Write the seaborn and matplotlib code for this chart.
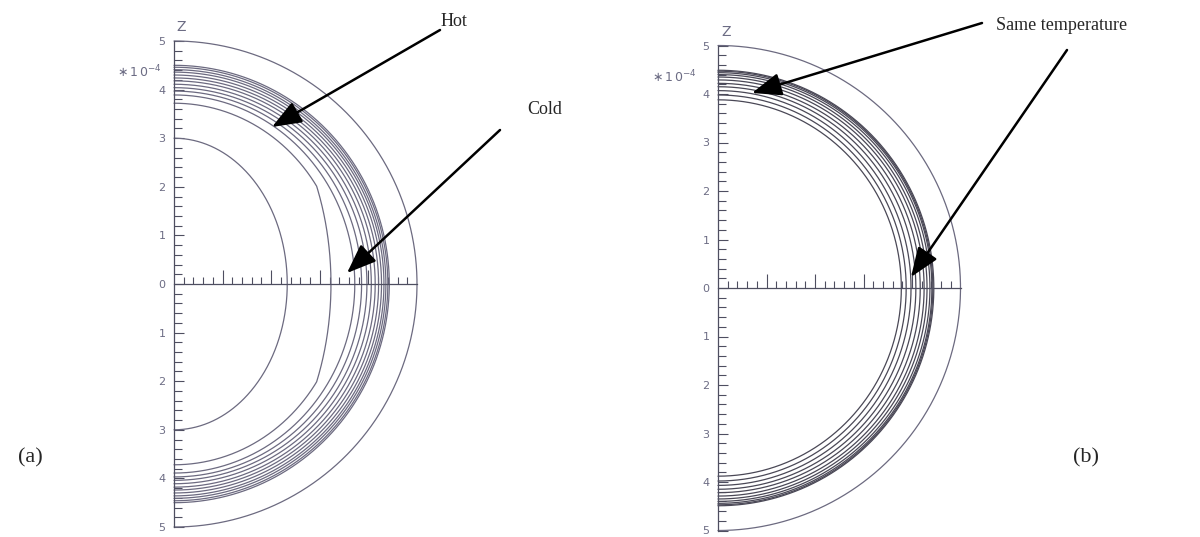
import numpy as np
import pandas as pd
import matplotlib
matplotlib.use("Agg")
import matplotlib.pyplot as plt
import seaborn as sns
from matplotlib.ticker import FuncFormatter

sns.set_style("white")
plt.rcParams["mathtext.fontset"] = "dejavusans"

# Isotherm radii (units of 1e-4): pole (z-axis) and equator (x-axis)
outer_radius = 5.0

# (a) non-uniform heating
core_a_equator, core_a_pole = 2.33, 3.0
hot_equator_a, hot_pole_a = 3.49, 3.72       # upper cap of the hot isotherm
hot_side_equator, hot_side_pole = 3.23, 4.82  # flattened flank of the hot isotherm
bundle_a_pole = [4.50, 4.46, 4.41, 4.36, 4.30, 4.24, 4.18, 4.11, 4.04, 3.97, 3.89]
bundle_a_equator = [4.43, 4.40, 4.36, 4.32, 4.27, 4.21, 4.14, 4.06, 3.97, 3.86, 3.72]

# (b) uniform temperature
bundle_b_pole = [4.49, 4.47, 4.44, 4.40, 4.35, 4.29, 4.22, 4.15, 4.07, 3.98, 3.88]
bundle_b_equator = [4.45, 4.43, 4.41, 4.37, 4.31, 4.25, 4.17, 4.08, 3.98, 3.88, 3.78]

tick_labels = ["5", "4", "3", "2", "1", "0", "1", "2", "3", "4", "5"]

W, H = 1200, 537
fig = plt.figure(figsize=(W / 100, H / 100), dpi=100)

theta = np.linspace(-np.pi / 2, np.pi / 2, 721)


def half_ellipse(a, b):
    return a * np.cos(theta), b * np.sin(theta)


def contour_frame(pairs):
    rows = []
    for k, (x, z) in enumerate(pairs):
        rows.append(pd.DataFrame({"x": x, "z": z, "contour": k}))
    return pd.concat(rows, ignore_index=True)


def setup_axes(ax, origin_px, unit_px):
    ox, oy = origin_px
    ax.set_xlim((ax_px[0] - ox) / unit_px, (ax_px[1] - ox) / unit_px)
    ax.set_ylim(-(H - oy) / unit_px, oy / unit_px)
    ax.patch.set_alpha(0)
    for s in ("top", "right"):
        ax.spines[s].set_visible(False)
    axis_col = "#4e4e60"
    ax.spines["left"].set_position(("data", 0))
    ax.spines["bottom"].set_position(("data", 0))
    ax.spines["left"].set_bounds(-5, 5)
    ax.spines["bottom"].set_bounds(0, 5)
    for s in ("left", "bottom"):
        ax.spines[s].set_color(axis_col)
        ax.spines[s].set_linewidth(0.9)
    minor = [t for t in np.round(np.arange(-5, 5.001, 0.2), 3) if abs(t - round(t)) > 1e-6]
    ax.set_yticks(list(range(-5, 6)))
    ax.set_yticks(minor, minor=True)
    ax.set_xticks([1, 2, 3, 4])
    ax.set_xticks([t for t in minor if 0 < t < 5], minor=True)
    ax.yaxis.set_major_formatter(FuncFormatter(lambda v, p: tick_labels[int(round(5 - v))] if abs(v) <= 5.01 else ""))
    ax.tick_params(axis="y", which="both", left=True, right=False)
    ax.tick_params(axis="x", which="both", bottom=True, top=False)
    ax.tick_params(axis="y", which="major", direction="in", length=7, width=0.8,
                   color=axis_col, labelsize=8, labelcolor="#6c6c84", pad=6)
    ax.tick_params(axis="y", which="minor", direction="in", length=6, width=0.8, color=axis_col)
    ax.tick_params(axis="x", which="major", direction="in", length=10, width=0.8,
                   color=axis_col, labelbottom=False)
    ax.tick_params(axis="x", which="minor", direction="in", length=5, width=0.8, color=axis_col)
    ax.set_xlabel("")
    ax.set_ylabel("")


# ---------- panel (a) ----------
ax_px = (95, 440)
origin_a, unit_a = (174, 284), 48.6
axA = fig.add_axes([ax_px[0] / W, 0, (ax_px[1] - ax_px[0]) / W, 1])

zs = hot_pole_a * np.sin(theta)
hot_x = np.minimum(hot_equator_a * np.sqrt(np.clip(1 - (zs / hot_pole_a) ** 2, 0, None)),
                   hot_side_equator * np.sqrt(np.clip(1 - (zs / hot_side_pole) ** 2, 0, None)))

curves_a = [half_ellipse(core_a_equator, core_a_pole), (hot_x, zs)]
curves_a += [half_ellipse(a, b) for a, b in zip(bundle_a_equator, bundle_a_pole)]
df_a = contour_frame(curves_a)
sns.lineplot(data=df_a, x="x", y="z", units="contour", estimator=None, sort=False,
             color="#6c6a80", linewidth=0.9, ax=axA, legend=False)
ox, oz = half_ellipse(outer_radius, outer_radius)
sns.lineplot(x=ox, y=oz, sort=False, estimator=None, color="#6c6a80", linewidth=0.9, ax=axA)
setup_axes(axA, origin_a, unit_a)

axA.text(0.14, 5.29, "Z", fontsize=10, color="#6c6c84", ha="center", va="center")
axA.text(-0.25, 4.36, r"$\ast\,1\,0^{-4}$", fontsize=9, color="#6c6c84", ha="right", va="center")

# ---------- panel (b) ----------
ax_px = (640, 980)
origin_b, unit_b = (718, 288), 48.5
axB = fig.add_axes([ax_px[0] / W, 0, (ax_px[1] - ax_px[0]) / W, 1])
curves_b = [half_ellipse(a, b) for a, b in zip(bundle_b_equator, bundle_b_pole)]
df_b = contour_frame(curves_b)
sns.lineplot(data=df_b, x="x", y="z", units="contour", estimator=None, sort=False,
             color="#4a4856", linewidth=0.9, ax=axB, legend=False)
sns.lineplot(x=ox, y=oz, sort=False, estimator=None, color="#6c6a80", linewidth=0.9, ax=axB)
setup_axes(axB, origin_b, unit_b)

axB.text(0.16, 5.27, "Z", fontsize=10, color="#6c6c84", ha="center", va="center")
axB.text(-0.43, 4.35, r"$\ast\,1\,0^{-4}$", fontsize=9, color="#6c6c84", ha="right", va="center")


# ---------- annotations ----------
def fpx(x, y):
    return (x / W, 1 - y / H)


def arrow(tail, tip):
    fig.add_artist(matplotlib.patches.FancyArrowPatch(
        fpx(*tail), fpx(*tip), transform=fig.transFigure,
        arrowstyle="-|>,head_length=0.9,head_width=0.35", mutation_scale=20,
        color="black", linewidth=1.8, shrinkA=0, shrinkB=0))


serif = "Liberation Serif"
arrow((440, 30), (272, 127))
arrow((500, 130), (347, 273))
fig.text(*fpx(441, 21), "Hot", fontsize=13, family=serif, ha="left", va="center")
fig.text(*fpx(527, 110), "Cold", fontsize=13, family=serif, ha="left", va="center")

arrow((982, 23), (752, 93))
arrow((1067, 50), (911, 277))
fig.text(*fpx(996, 25), "Same temperature", fontsize=13, family=serif, ha="left", va="center")

fig.text(*fpx(18, 458), "(a)", fontsize=16, family=serif, ha="left", va="center")
fig.text(*fpx(1073, 458), "(b)", fontsize=16, family=serif, ha="left", va="center")

fig.savefig("out.png", dpi=100)
